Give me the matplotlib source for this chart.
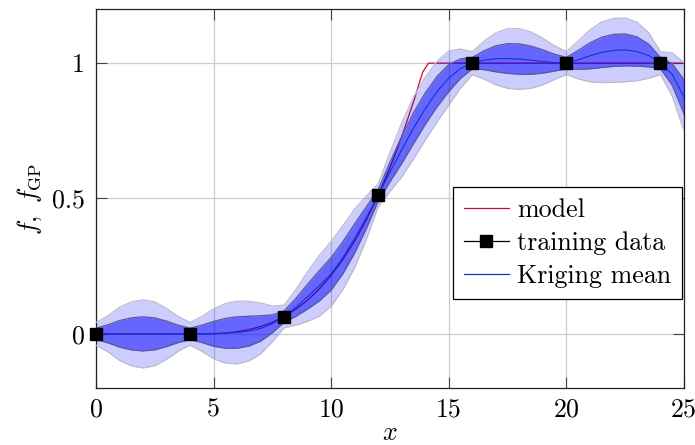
import matplotlib
matplotlib.use("Agg")
import matplotlib.pyplot as plt
from matplotlib.lines import Line2D
import numpy as np

plt.rcParams['font.family'] = 'serif'
plt.rcParams['font.serif'] = ['cmr10']
plt.rcParams['mathtext.fontset'] = 'cm'
plt.rcParams['axes.formatter.use_mathtext'] = True
plt.rcParams['axes.unicode_minus'] = False

# ---- data ----
train_x = [0, 4, 8, 12, 16, 20, 24]
train_y = [0.0, 0.0, 0.064, 0.512, 1.0, 1.0, 1.0]

model_x = [0, 4, 4.5, 5, 5.5, 6, 6.5, 7, 7.5, 8, 8.5, 9, 9.5, 10, 10.5, 11,
           11.5, 12, 12.5, 13, 13.5, 13.89, 14.14, 25]
model_y = [0.0, 0.0, 0.0001, 0.001, 0.003, 0.008, 0.016, 0.027, 0.043, 0.064,
           0.091, 0.125, 0.166, 0.216, 0.275, 0.343, 0.422, 0.512, 0.614,
           0.729, 0.857, 0.967, 1.0, 1.0]

gp_x = [0, 0.5, 1, 1.5, 2, 2.5, 3, 3.5, 4, 4.5, 5, 5.5, 6, 6.5, 7, 7.5, 8,
        8.5, 9, 9.5, 10, 10.5, 11, 11.5, 12, 12.5, 13, 13.5, 14, 14.5, 15,
        15.5, 16, 16.5, 17, 17.5, 18, 18.5, 19, 19.5, 20, 20.5, 21, 21.5,
        22, 22.5, 23, 23.5, 24, 24.5, 25]
gp_mean = [0.000, 0.000, 0.000, 0.000, 0.000, 0.000, 0.000, 0.000, 0.000,
           0.000, 0.000, 0.002, 0.005, 0.010, 0.020, 0.037, 0.064,
           0.098, 0.138, 0.178, 0.222, 0.282, 0.353, 0.430, 0.512,
           0.598, 0.680, 0.760, 0.832, 0.895, 0.945, 0.980, 1.000,
           1.011, 1.016, 1.017, 1.015, 1.011, 1.006, 1.002, 1.000,
           1.012, 1.027, 1.040, 1.047, 1.049, 1.043, 1.028, 1.000,
           0.958, 0.875]
gp_std = [0.021, 0.033, 0.049, 0.059, 0.063, 0.059, 0.047, 0.032, 0.021,
          0.032, 0.046, 0.055, 0.058, 0.055, 0.047, 0.033, 0.021,
          0.033, 0.046, 0.056, 0.060, 0.059, 0.054, 0.040, 0.021,
          0.036, 0.050, 0.057, 0.058, 0.056, 0.050, 0.036, 0.021,
          0.035, 0.048, 0.055, 0.056, 0.052, 0.043, 0.031, 0.021,
          0.035, 0.048, 0.056, 0.059, 0.059, 0.054, 0.042, 0.021,
          0.040, 0.063]

xticks = [0, 5, 10, 15, 20, 25]
yticks = [0, 0.5, 1]
ytick_labels = ['0', '0.5', '1']

# ---- plot ----
FS = 18.7
fig = plt.figure(figsize=(6.95, 4.45), dpi=100)
ax = fig.add_axes([0.1381, 0.1281, 0.8461, 0.8517])

gx = np.array(gp_x)
gm = np.array(gp_mean)
gs = np.array(gp_std)

red = '#C0103C'
blue = '#1434C8'

ax.plot(model_x, model_y, color=red, lw=0.9, zorder=2)
ax.fill_between(gx, gm - 2 * gs, gm + 2 * gs, color='#0000FF', alpha=0.2, lw=0, zorder=3)
ax.fill_between(gx, gm - gs, gm + gs, color='#0000FF', alpha=0.5, lw=0, zorder=4)
ax.plot(gx, gm + 2 * gs, color='#bcbcca', lw=0.9, zorder=4.5)
ax.plot(gx, gm - 2 * gs, color='#bcbcca', lw=0.9, zorder=4.5)
ax.plot(gx, gm + gs, color='#5a5a92', lw=0.9, zorder=4.6)
ax.plot(gx, gm - gs, color='#5a5a92', lw=0.9, zorder=4.6)
ax.plot(gx, gm, color=blue, lw=0.8, zorder=5)
ax.plot(train_x, train_y, ls='none', marker='s', ms=8.2, color='black', zorder=6, clip_on=False)

ax.set_xlim(0, 25)
ax.set_ylim(-0.2, 1.2)
ax.set_xticks(xticks)
ax.set_xticklabels([str(t) for t in xticks])
ax.set_yticks(yticks)
ax.set_yticklabels(ytick_labels)
ax.grid(True, color='#cccccc', lw=0.9)
ax.set_axisbelow(True)
ax.tick_params(direction='in', length=8, width=0.8, color='#444444', top=True, right=True,
               labelsize=FS)
ax.tick_params(axis='x', pad=7)
ax.tick_params(axis='y', pad=8)
for s in ax.spines.values():
    s.set_linewidth(0.9)
    s.set_color('#222222')

ax.set_xlabel('$x$', fontsize=FS, labelpad=0)
ax.set_ylabel(r'$f,\ f_{\mathrm{GP}}$', fontsize=FS, labelpad=6)

handles = [Line2D([], [], color=red, lw=0.9),
           Line2D([], [], color='black', lw=0.9, marker='s', ms=8.2),
           Line2D([], [], color=blue, lw=0.9)]
labels = ['model', 'training data', 'Kriging mean']
leg = ax.legend(handles, labels, loc='upper right', bbox_to_anchor=(0.9966, 0.530),
                fontsize=FS, frameon=True, fancybox=False, framealpha=1,
                edgecolor='black', handlelength=1.73, handletextpad=0.32,
                borderpad=0.42, labelspacing=0.36, borderaxespad=0)
leg.get_frame().set_linewidth(0.9)
leg.set_zorder(10)

fig.savefig('out.png', dpi=100)
